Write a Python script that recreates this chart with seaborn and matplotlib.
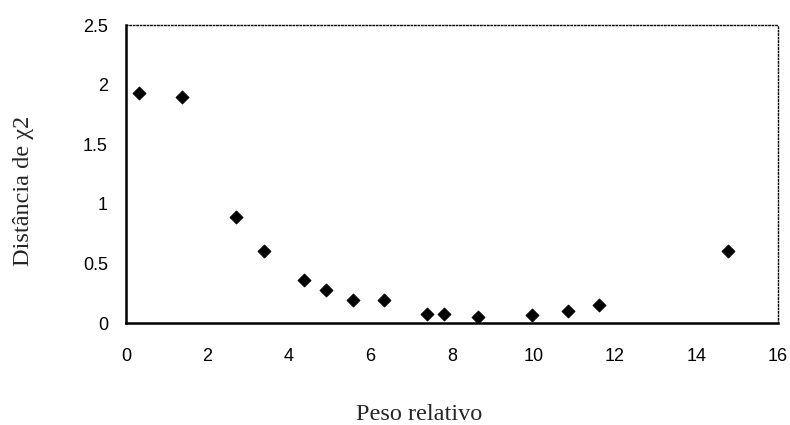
import matplotlib
matplotlib.use("Agg")
import matplotlib.pyplot as plt
import matplotlib.ticker as mticker
import seaborn as sns
import pandas as pd

# Relative weight vs. chi-square distance
peso_relativo = [0.32, 1.37, 2.69, 3.39, 4.37, 4.91, 5.56, 6.32, 7.38, 7.81, 8.63, 9.97, 10.84, 11.61, 14.78]
distancia_chi2 = [1.93, 1.90, 0.89, 0.60, 0.36, 0.28, 0.19, 0.19, 0.076, 0.076, 0.05, 0.07, 0.10, 0.15, 0.60]

x_ticks = [0, 2, 4, 6, 8, 10, 12, 14, 16]
y_ticks = [0, 0.5, 1, 1.5, 2, 2.5]

df = pd.DataFrame({"peso": peso_relativo, "dist": distancia_chi2})

sns.set_style("white")
plt.rcParams["font.family"] = ["Liberation Sans", "DejaVu Sans"]

fig = plt.figure(figsize=(7.9, 4.25), dpi=100)
ax = fig.add_axes([0.1595, 0.24, 0.8255, 0.701])

sns.scatterplot(data=df, x="peso", y="dist", marker="D", s=44,
                color="black", edgecolor="black", linewidth=0.6, ax=ax, zorder=3)

ax.set_xlim(0, 16)
ax.set_ylim(0, 2.5)
ax.set_xticks(x_ticks)
ax.set_yticks(y_ticks)
ax.yaxis.set_major_formatter(mticker.FuncFormatter(lambda v, p: f"{v:g}"))
ax.tick_params(axis="both", direction="out", length=6, width=1.5, color="black",
               labelsize=13, labelcolor="black")
ax.tick_params(axis="x", pad=12)
ax.tick_params(axis="y", pad=7)

for side in ("left", "bottom"):
    ax.spines[side].set_color("black")
    ax.spines[side].set_linewidth(1.8)
for side in ("top", "right"):
    ax.spines[side].set_color("black")
    ax.spines[side].set_linewidth(1.0)
    ax.spines[side].set_linestyle((0, (1, 1.5)))

serif = ["Liberation Serif", "DejaVu Serif"]
ax.set_xlabel("Peso relativo", fontsize=17.5, family=serif, va="center")
ax.set_ylabel("Distância de χ2", fontsize=17.5, family=serif, va="center")
ax.xaxis.set_label_coords(0.449, -0.308)
ax.yaxis.set_label_coords(-0.157, 0.443)

fig.savefig("out.png", dpi=100, facecolor="white")
